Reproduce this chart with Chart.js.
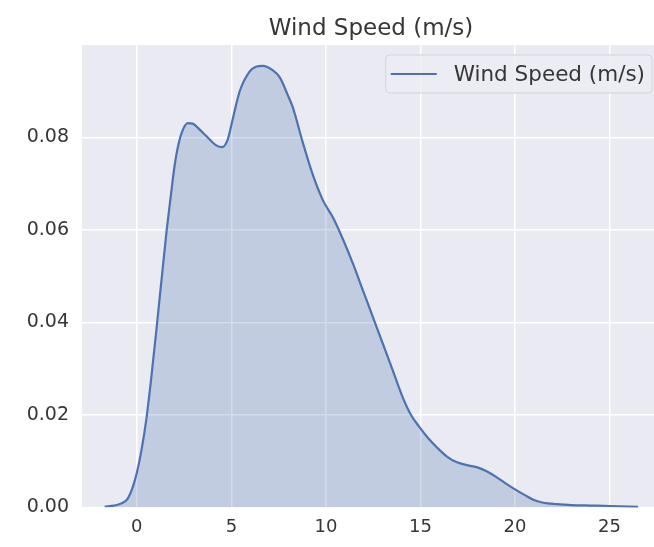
<!DOCTYPE html>
<html>
<head>
<meta charset="utf-8">
<script src="https://cdn.jsdelivr.net/npm/chart.js@4.4.0/dist/chart.umd.min.js"></script>
<style>
  html, body { margin: 0; padding: 0; background: #ffffff; }
  #wrap { width: 654px; height: 547px; }
</style>
</head>
<body>
<div id="wrap"><canvas id="kdeChart"></canvas></div>
<script>
// KDE curve of wind speed
const windSpeed = [-1.7, -1.2, -0.8, -0.5, -0.25, 0, 0.25, 0.5, 0.75, 1.05, 1.3, 1.58, 1.8, 2.0, 2.2, 2.45, 2.7, 2.95, 3.3, 3.7, 4.2, 4.5, 4.8, 5.1, 5.44, 5.97, 6.3, 6.66, 7.2, 7.56, 8.0, 8.25, 8.77, 9.3, 9.83, 10.4, 10.9, 11.45, 11.95, 12.5, 13.0, 13.5, 14.06, 14.5, 14.96, 15.4, 15.86, 16.4, 16.9, 17.4, 17.97, 18.5, 19.0, 19.5, 20.0, 20.5, 21.0, 21.5, 22.2, 23.0, 24.0, 25.0, 26.5];
const density = [0.0002, 0.0004, 0.0009, 0.0018, 0.0040, 0.0075, 0.0125, 0.019, 0.0275, 0.039, 0.049, 0.06, 0.0675, 0.074, 0.0785, 0.0818, 0.0831, 0.0830, 0.0818, 0.0802, 0.0783, 0.0779, 0.0795, 0.0845, 0.0900, 0.0943, 0.0953, 0.0955, 0.0945, 0.093, 0.089, 0.0865, 0.079, 0.072, 0.0665, 0.0625, 0.058, 0.0525, 0.047, 0.041, 0.0355, 0.030, 0.0238, 0.020, 0.0173, 0.015, 0.013, 0.011, 0.0098, 0.0092, 0.0087, 0.0078, 0.0066, 0.0052, 0.0039, 0.0027, 0.0016, 0.001, 0.0007, 0.0005, 0.0004, 0.0003, 0.0001];
const xTicks = [0, 5, 10, 15, 20, 25];
const yTicks = [0, 0.02, 0.04, 0.06, 0.08];
const seriesLabel = 'Wind Speed (m/s)';
const chartTitle = 'Wind Speed (m/s)';

const lineBlue = '#4C72B0';
const textGrey = '#363636';
const fontFamily = "'DejaVu Sans', sans-serif";

// seaborn darkgrid background behind the plot
const panelBackground = {
    id: 'panelBackground',
    beforeDraw(chart) {
        const { ctx, chartArea } = chart;
        ctx.save();
        ctx.fillStyle = '#EAEAF2';
        ctx.fillRect(chartArea.left, chartArea.top, chartArea.right - chartArea.left, chartArea.bottom - chartArea.top);
        ctx.restore();
    }
};

// title centred over the axes (matplotlib style), and legend inside the upper right corner
const axesDecor = {
    id: 'axesDecor',
    afterDraw(chart) {
        const { ctx, chartArea } = chart;
        const ds = chart.data.datasets[0];
        ctx.save();
        ctx.font = '23px ' + fontFamily;
        ctx.fillStyle = textGrey;
        ctx.textAlign = 'center';
        ctx.textBaseline = 'middle';
        ctx.fillText(chartTitle, (chartArea.left + chartArea.right) / 2 + 3, chartArea.top - 16);

        ctx.font = '21.5px ' + fontFamily;
        ctx.textAlign = 'left';
        const textW = ctx.measureText(ds.label).width;
        const boxH = 38;
        const boxW = 5 + 46 + 17 + textW + 7;
        const right = chartArea.right - 2;
        const top = chartArea.top + 10;
        const left = right - boxW;
        ctx.beginPath();
        ctx.roundRect(left, top, boxW, boxH, 4);
        ctx.fillStyle = 'rgba(236, 236, 244, 0.85)';
        ctx.fill();
        ctx.strokeStyle = '#d4d4dc';
        ctx.lineWidth = 1;
        ctx.stroke();
        const midY = top + boxH / 2;
        ctx.beginPath();
        ctx.moveTo(left + 5, midY);
        ctx.lineTo(left + 51, midY);
        ctx.strokeStyle = ds.borderColor;
        ctx.lineWidth = 2.2;
        ctx.stroke();
        ctx.fillStyle = textGrey;
        ctx.fillText(ds.label, left + 68, midY + 1);
        ctx.restore();
    }
};

const ctx = document.getElementById('kdeChart').getContext('2d');
new Chart(ctx, {
    type: 'line',
    data: {
        datasets: [{
            label: seriesLabel,
            data: windSpeed.map((v, i) => ({ x: v, y: density[i] })),
            borderColor: lineBlue,
            backgroundColor: 'rgba(76, 114, 176, 0.25)',
            borderWidth: 2.2,
            fill: 'origin',
            pointRadius: 0,
            cubicInterpolationMode: 'monotone'
        }]
    },
    options: {
        responsive: true,
        maintainAspectRatio: false,
        animation: false,
        layout: { padding: { left: 0, right: 0, top: 45, bottom: 0 } },
        scales: {
            x: {
                type: 'linear',
                min: -2.9,
                max: 27.35,
                afterBuildTicks: scale => { scale.ticks = xTicks.map(v => ({ value: v })); },
                grid: { color: '#ffffff', lineWidth: 1.5, drawTicks: false },
                border: { display: false },
                ticks: { color: textGrey, font: { family: fontFamily, size: 18 }, padding: 9, maxRotation: 0 }
            },
            y: {
                type: 'linear',
                min: 0,
                max: 0.1,
                afterBuildTicks: scale => { scale.ticks = yTicks.map(v => ({ value: v })); },
                afterFit: scale => { scale.width = 82; },
                grid: { color: '#ffffff', lineWidth: 1.5, drawTicks: false },
                border: { display: false },
                ticks: {
                    color: textGrey,
                    font: { family: fontFamily, size: 19 },
                    padding: 13,
                    callback: v => v.toFixed(2)
                }
            }
        },
        plugins: {
            legend: { display: false },
            tooltip: { enabled: false },
            title: { display: false }
        }
    },
    plugins: [panelBackground, axesDecor]
});
</script>
</body>
</html>
